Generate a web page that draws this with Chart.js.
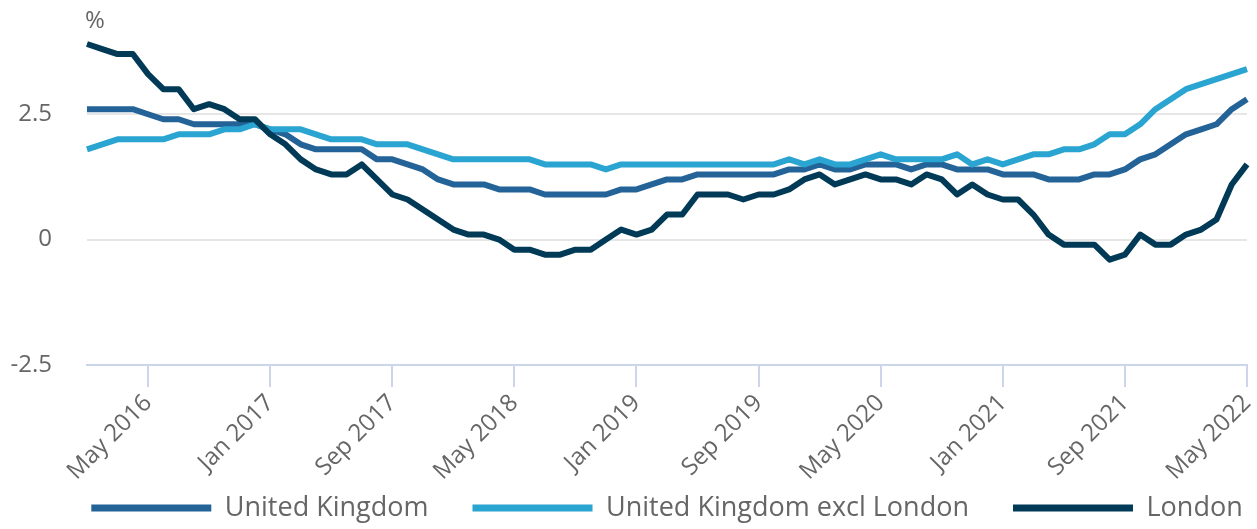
<!DOCTYPE html>
<html>
<head>
<meta charset="utf-8">
<script src="https://cdn.jsdelivr.net/npm/chart.js@4/dist/chart.umd.min.js"></script>
<style>
  html, body { margin: 0; padding: 0; background: #fff; }
  #wrap { width: 1257px; height: 529px; position: relative; }
</style>
</head>
<body>
<div id="wrap"><canvas id="chart"></canvas></div>
<script>
'use strict';

// monthly, Jan 2016 - May 2022
var months = [
  'Jan 2016','Feb 2016','Mar 2016','Apr 2016','May 2016','Jun 2016','Jul 2016','Aug 2016','Sep 2016','Oct 2016','Nov 2016','Dec 2016',
  'Jan 2017','Feb 2017','Mar 2017','Apr 2017','May 2017','Jun 2017','Jul 2017','Aug 2017','Sep 2017','Oct 2017','Nov 2017','Dec 2017',
  'Jan 2018','Feb 2018','Mar 2018','Apr 2018','May 2018','Jun 2018','Jul 2018','Aug 2018','Sep 2018','Oct 2018','Nov 2018','Dec 2018',
  'Jan 2019','Feb 2019','Mar 2019','Apr 2019','May 2019','Jun 2019','Jul 2019','Aug 2019','Sep 2019','Oct 2019','Nov 2019','Dec 2019',
  'Jan 2020','Feb 2020','Mar 2020','Apr 2020','May 2020','Jun 2020','Jul 2020','Aug 2020','Sep 2020','Oct 2020','Nov 2020','Dec 2020',
  'Jan 2021','Feb 2021','Mar 2021','Apr 2021','May 2021','Jun 2021','Jul 2021','Aug 2021','Sep 2021','Oct 2021','Nov 2021','Dec 2021',
  'Jan 2022','Feb 2022','Mar 2022','Apr 2022','May 2022'
];

var unitedKingdom = [
  2.6, 2.6, 2.6, 2.6, 2.5, 2.4, 2.4, 2.3, 2.3, 2.3, 2.3, 2.3, 2.2, 2.1, 1.9, 1.8,
  1.8, 1.8, 1.8, 1.6, 1.6, 1.5, 1.4, 1.2, 1.1, 1.1, 1.1, 1.0, 1.0, 1.0, 0.9, 0.9,
  0.9, 0.9, 0.9, 1.0, 1.0, 1.1, 1.2, 1.2, 1.3, 1.3, 1.3, 1.3, 1.3, 1.3, 1.4, 1.4,
  1.5, 1.4, 1.4, 1.5, 1.5, 1.5, 1.4, 1.5, 1.5, 1.4, 1.4, 1.4, 1.3, 1.3, 1.3, 1.2,
  1.2, 1.2, 1.3, 1.3, 1.4, 1.6, 1.7, 1.9, 2.1, 2.2, 2.3, 2.6, 2.8
];

var ukExclLondon = [
  1.8, 1.9, 2.0, 2.0, 2.0, 2.0, 2.1, 2.1, 2.1, 2.2, 2.2, 2.3, 2.2, 2.2, 2.2, 2.1,
  2.0, 2.0, 2.0, 1.9, 1.9, 1.9, 1.8, 1.7, 1.6, 1.6, 1.6, 1.6, 1.6, 1.6, 1.5, 1.5,
  1.5, 1.5, 1.4, 1.5, 1.5, 1.5, 1.5, 1.5, 1.5, 1.5, 1.5, 1.5, 1.5, 1.5, 1.6, 1.5,
  1.6, 1.5, 1.5, 1.6, 1.7, 1.6, 1.6, 1.6, 1.6, 1.7, 1.5, 1.6, 1.5, 1.6, 1.7, 1.7,
  1.8, 1.8, 1.9, 2.1, 2.1, 2.3, 2.6, 2.8, 3.0, 3.1, 3.2, 3.3, 3.4
];

var london = [
  3.9, 3.8, 3.7, 3.7, 3.3, 3.0, 3.0, 2.6, 2.7, 2.6, 2.4, 2.4, 2.1, 1.9, 1.6, 1.4,
  1.3, 1.3, 1.5, 1.2, 0.9, 0.8, 0.6, 0.4, 0.2, 0.1, 0.1, 0.0, -0.2, -0.2, -0.3, -0.3,
  -0.2, -0.2, 0.0, 0.2, 0.1, 0.2, 0.5, 0.5, 0.9, 0.9, 0.9, 0.8, 0.9, 0.9, 1.0, 1.2,
  1.3, 1.1, 1.2, 1.3, 1.2, 1.2, 1.1, 1.3, 1.2, 0.9, 1.1, 0.9, 0.8, 0.8, 0.5, 0.1,
  -0.1, -0.1, -0.1, -0.4, -0.3, 0.1, -0.1, -0.1, 0.1, 0.2, 0.4, 1.1, 1.5
];

var yTicks = [-2.5, 0, 2.5];

var textColor = '#666666';
var fontFamily = "'Open Sans', 'Noto Sans', sans-serif";
var legendGap = 44;

function series(label, data, color, order) {
  return {
    label: label,
    data: data,
    borderColor: color,
    backgroundColor: color,
    borderWidth: 6,
    pointRadius: 0,
    pointHoverRadius: 0,
    tension: 0,
    borderJoinStyle: 'round',
    order: order
  };
}

// draws the "%" unit above the y axis
var unitLabel = {
  id: 'unitLabel',
  afterDraw: function (chart) {
    var ctx = chart.ctx;
    ctx.save();
    ctx.font = '24px ' + fontFamily;
    ctx.fillStyle = textColor;
    ctx.textAlign = 'left';
    ctx.textBaseline = 'middle';
    ctx.fillText('%', chart.chartArea.left - 2, 21);
    ctx.restore();
  }
};

// centre the legend row under the plot area and let the
// rotated x labels run down past the axis box
var tweakLayout = {
  id: 'tweakLayout',
  afterLayout: function (chart) {
    var lg = chart.legend;
    var area = chart.chartArea;
    var rowWidth = lg.lineWidths[0];
    var start = (area.left + area.right) / 2 - (rowWidth - legendGap) / 2;
    lg.right = chart.width + 100;
    lg.left = 2 * start - legendGap - lg.right + rowWidth;
    lg.width = lg.right - lg.left;
    lg.top += 2.5;
    lg.bottom += 2.5;
    var x = chart.scales.x;
    x.bottom = chart.height;
    x.height = x.bottom - x.top;
  }
};

var ctx = document.getElementById('chart').getContext('2d');
new Chart(ctx, {
  type: 'line',
  data: {
    labels: months,
    datasets: [
      series('United Kingdom', unitedKingdom, '#236398', 2),
      series('United Kingdom excl London', ukExclLondon, '#2aa4d0', 1),
      series('London', london, '#003a57', 0)
    ]
  },
  options: {
    responsive: true,
    maintainAspectRatio: false,
    animation: false,
    layout: { padding: { top: 39, right: 0, left: 0, bottom: 0 } },
    plugins: {
      tooltip: { enabled: false },
      legend: {
        position: 'bottom',
        fullSize: true,
        labels: {
          boxWidth: 120,
          boxHeight: 7,
          padding: legendGap,
          color: textColor,
          font: { family: fontFamily, size: 27 },
          sort: function (a, b) { return a.datasetIndex - b.datasetIndex; },
          generateLabels: function (chart) {
            return Chart.defaults.plugins.legend.labels.generateLabels(chart).map(function (l) {
              l.lineWidth = 0;
              l.fillStyle = l.strokeStyle;
              return l;
            });
          }
        }
      }
    },
    scales: {
      x: {
        type: 'category',
        afterFit: function (scale) {
          scale.height = 83;
          scale.paddingLeft = 0;
          scale.paddingRight = 10;
        },
        grid: {
          drawOnChartArea: false,
          drawTicks: true,
          tickLength: 22,
          color: '#ccd6eb',
          lineWidth: 2
        },
        border: { display: true, color: '#ccd6eb', width: 2 },
        ticks: {
          autoSkip: false,
          maxRotation: 45,
          minRotation: 45,
          padding: 2,
          color: textColor,
          font: { family: fontFamily, size: 24 },
          callback: function (value, index) {
            return (index % 8 === 4) ? months[index] : null;
          }
        }
      },
      y: {
        min: -2.5,
        max: 4,
        afterBuildTicks: function (scale) {
          scale.ticks = yTicks.map(function (v) { return { value: v }; });
        },
        afterFit: function (scale) {
          scale.width = 87;
          scale.paddingTop = 0;
          scale.paddingBottom = 0;
        },
        grid: {
          drawTicks: false,
          lineWidth: 2,
          color: function (c) {
            return c.tick && c.tick.value === -2.5 ? 'rgba(0,0,0,0)' : '#e6e6e6';
          }
        },
        border: { display: false },
        ticks: {
          padding: 35,
          color: textColor,
          font: { family: fontFamily, size: 24 },
          callback: function (v) { return String(v); }
        }
      }
    }
  },
  plugins: [unitLabel, tweakLayout]
});
</script>
</body>
</html>
